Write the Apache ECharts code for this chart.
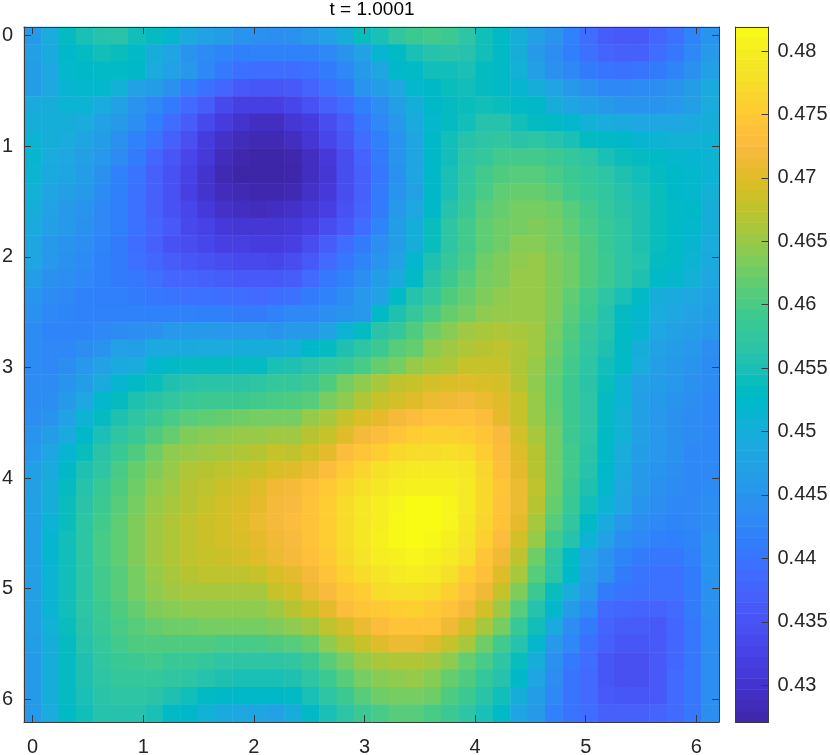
<!DOCTYPE html>
<html>
<head>
<meta charset="utf-8">
<style>html,body{margin:0;padding:0;background:#fff}#c{width:830px;height:755px}</style>
<script src="https://cdn.jsdelivr.net/npm/echarts@6/dist/echarts.min.js"></script>
</head>
<body>
<div id="c"></div>
<script>
// Field values, in thousandths above 0.4
const row00=[46,49.5,53.5,55,56,56.5,54.5,53.5,52,49,47.5,46.5,45,44.5,44,44.5,46,47.5,50,54,55,57.5,59,59.5,59,57,54.5,53,50,47,45,42,39,36.5,36,36,38,39.5,42.5,45];
const row01=[47,49,52.5,53.5,54.5,54,53,50,48,45,43.5,42.5,41.5,42,42,42,42,43,45,47.5,51.5,53,55,56,56.5,56,54.5,53,50,46,44,41.5,39.5,37.5,37,37,39,40.5,43,46];
const row02=[46.5,48.5,52,52.5,53,53,52.5,49.5,47.5,46,43,41,39.5,39,39,39,39.5,41,43,46,48,52.5,53,54.5,54.5,55,53.5,53,50.5,47,44.5,43,41,40,39.5,40,41,42.5,44.5,47];
const row03=[46.5,48.5,51.5,52,52,50.5,47.5,46.5,44.5,41.5,39.5,38,36,35.5,35.5,36,37.5,39.5,41,45,46.5,48.5,52,52.5,54,54.5,53.5,53,51.5,50,48,46,44.5,43,43,43.5,44,45,46.5,49];
const row04=[49,50,51,51,49.5,47.5,45,43,41,38.5,36.5,33.5,32,32,32,33,35,37,39,41.5,44,47,50,52.5,53.5,54,54.5,54,53,52.5,50,48,47,46,45,45,45,45.5,47,49.5];
const row05=[50,50,50,49.5,47.5,46,44,41.5,39,36.5,33.5,31.5,30,29,29,30.5,31.5,34,36.5,40,43,45.5,49,52,53.5,54.5,56,56,54.5,53.5,53,52,50.5,49.5,49,48.5,48.5,48.5,49,50];
const row06=[51,50,49.5,48,46.5,44.5,42,40,37,34.5,31.5,29.5,28.5,28,28,29,30.5,33,35.5,39,41.5,45,48,52.5,54.5,56,57,57.5,56.5,57,56,55,53.5,53,52.5,51.5,51,50.5,50.5,51];
const row07=[51.5,49.5,48.5,47,45.5,43.5,41,38,35.5,33,31,28.5,27.5,27,27,27.5,29,31,34,37.5,41,45,48,52.5,54.5,57,58,59.5,59.5,59.5,59,58,57,55,54,53.5,53,52,51.5,51];
const row08=[51,49,48,46.5,44.5,42,40,37,35,32.5,30,28,27.2,27.1,27.1,27.3,29,30.5,34,37,40.5,44.5,48,52.5,55,57.5,59.5,60.5,61,61,60,59,58,57,55.5,54.5,53.5,52.5,52,51];
const row09=[50.5,48,47,46,43.5,41.5,39.5,37,35,32,30,28.5,28,27.5,27.5,28,29.5,31,34,37,41,45,47.5,52.5,55,58,60,61.5,62,62,61,59.5,58.5,57.5,56,55,54,52.5,52,50.5];
const row10=[50,47.5,46,45,43,41.5,39.5,37,35,33,31,29.5,29,28.5,29,29.5,30.5,32,35,37.5,41,46,48.5,52.5,56,58.5,61,62,63,63,62.5,61,59.5,58,56.5,55.5,54,53,52.5,50];
const row11=[49,47,46,44.5,43,41.5,39.5,37.5,36,33.5,32.5,31,30.5,30.5,30.5,31,32,34,36,39,42.5,46.5,50,54,57,59.5,61.5,62.5,63,63.5,63,61.5,60,58.5,57,55.5,54,53,52,50];
const row12=[48,46,45,44,42.5,41,39,37,35,34,33,32,32,31.5,31.5,32,34,36.5,39,41,44,46.5,50,54,57,59.5,61.5,62.5,64,64,63,62,60.5,58.5,57,55.5,54,53,51.5,49.5];
const row13=[48,45.5,44.5,43.5,42,41,39.5,38,36.5,35.5,35,34,33.5,33.5,33,34,36,38.5,40.5,42.5,45,47.5,52,55.5,58,60,62.5,63.5,64.5,65,63.5,62.5,60.5,59,57,56,53.5,53,51,49];
const row14=[46.5,44.5,44,43,42,41,40.5,39.5,38,37.5,37,36.5,36,36,36,36.5,38.5,40.5,42,44,46.5,49,53,56.5,59,61,63,63.5,65,65,63.5,62.5,60.5,59,57,55.5,53,52,50.5,48.5];
const row15=[45,43.5,43,42,41.5,41.5,41,40.5,40,39.5,39.5,39,39,38.5,39,39.5,41,42,43.5,45.5,47.5,53,56,58,60.5,62,63.5,64.5,65,65,63.5,61.5,59.5,57,55,53,50,49,48.5,47.5];
const row16=[44.5,43,42.5,42,42,42,42,42,42,42,41.5,41.5,41,41,42,43,43,44,45,45.5,53,55.5,58,60,62,63,64.5,65,65,65,63.5,61,59,56,53.5,52,49.5,48.5,47.5,46.5];
const row17=[43.5,42.5,42.5,42.5,43,43.5,44,44.5,45.5,46,46,45.5,45.5,45.5,45,46,46,47.5,51,53.5,56.5,58,60.5,62.5,64,65.5,66,66.5,66,65.5,63,60.5,58,56,53,51.5,48.5,47.5,46.5,45.5];
const row18=[43.5,43,43,44,45,47.5,47,49,49,49,49.5,49.5,50,50,50,50.5,52.5,53.5,55.5,57,59,61,62,64.5,65.5,66.5,67,67.5,66.5,65.5,62.5,60,57.5,55.5,53,50,47.5,46.5,45.5,44];
const row19=[43.5,43,44,45.5,47.5,49,49.5,52,53,53.5,53.5,53.5,53.5,53.5,55,55.5,56.5,57.5,58.5,60,62,63,65,66,66.5,68,68,68,66.5,65,62,59.5,57,54.5,53,49.5,47,46,45,43.5];
const row20=[43.5,43.5,45,46.5,49,51.5,53,54,55.5,56,56.5,56.5,56.5,57,58,58,59,60.5,63,64.5,66,67.5,68,69,69.5,70,69.5,69,67,64.5,61.5,59,56.5,54,51,47.5,46.5,45.5,44.5,43.5];
const row21=[43.5,44,46,48.5,52,53.5,55.5,56.5,57.5,58.5,59,59,59,59.5,60,60.5,61,63,64.5,66.5,68,69,70,71,71.5,72,71,70,68,65,61.5,59,57,53.5,51,47,46,45,44,43];
const row22=[44,45,47.5,51,53.5,55.5,57,58.5,60,61,61.5,62,62.5,63,63,63,65,66,68,69.5,70.5,72,73,74,74,74,73,70.5,68,65,62,59,57,53.5,50.5,47,45.5,44.5,43.5,43];
const row23=[45,46.5,49,52.5,55,57,58.5,60.5,62,63.5,64,64.5,65,65,65.5,65.5,67,68,70,72,73,74.5,75.5,76,76,75.5,74.5,72.5,69,66,62.5,59,57,53,50.5,47,45.5,44.5,43.5,43];
const row24=[45.5,48,51.5,54,56.5,58.5,60.5,62.5,64.5,65,65.5,66,66.5,67,68,67.5,69,70.5,73,74.5,75.5,77,77.5,77.5,78,77.5,75.5,73,70,67,62.5,59.5,56.5,53,49.5,46.5,45.5,44.5,43,43];
const row25=[47,49,52.5,55.5,57,60,62,63.5,65,66.5,67,67.5,68,68.5,69.5,70,71,73,75,76.5,78,79,79.5,79.5,79.5,79,76.5,73.5,70.5,67,62.5,59.5,56,52.5,49,46,45,44,43,43];
const row26=[47,50,53.5,56,58.5,60.5,62.5,64.5,65.5,67,67.5,68.5,69,70,71.5,72,73.5,75,76.5,78,79,80,80.5,80.5,80.5,79.5,77,74.5,71,67.5,62.5,59,55.5,52,48.5,46,44.5,43.5,43,43.5];
const row27=[47,50,54,56.5,59,61,63,65,66,67,68,69,69.5,70.5,72,72.5,74,75.5,77.5,79,80,81,81.9,81.9,81,79.5,77,74,71,67,62,58.5,54.5,51,48,45,44,43,43,44];
const row28=[47,51,54,57,59.5,61.5,63.5,65.5,66.5,67.5,68.5,69,70,71,72,73,74,75.5,77.5,79,80,81.5,81.9,81.9,81,79,76.5,74,70.5,66,61,57.5,53,49,45.5,44,43,42.5,43,44];
const row29=[47,51.5,54.5,57,60,61.5,63.5,65.5,66.5,67.5,68.5,69,69.5,70.5,71.5,72.5,74,75.5,77.5,79,80.5,81.5,81.9,81.5,80.5,78.5,76,73,69,65,59.5,56,51,47.5,44,43,42,41.5,42.5,45];
const row30=[47,51.5,54.5,57,60,61.5,63.5,65.5,66.5,67.5,68,68.5,69,70,71,72,73.5,75,77,78.5,80,80.5,81,80.5,79.5,78,74.5,71.5,67.5,62.5,57.5,53,48,45,42.5,41,40.5,40.5,42,45];
const row31=[47,51,54.5,57,59.5,61,63,65,66,67,67.5,67.5,67.5,68,69.5,70.5,72,74,76,77.5,78.5,79.5,80,79.5,78,75.5,73.5,70,66,61,57,52.5,47,44.5,41,40,39.5,39.5,41,45];
const row32=[47,51,54.5,57,59.5,61,63,64.5,65.5,66,66,66,66,66,68,69,71,72.5,74.5,75.5,77.5,78,78,77.5,76,74,71.5,68,63.5,59,54,49.5,46,41,40,39.5,39.5,39.5,41,44.5];
const row33=[47,51,54.5,57,59,60.5,62,63.5,64,64.5,64.5,64.5,64.5,64.5,65.5,67,68.5,70.5,73,74.5,75,75.5,76,75,74,72,69,65.5,61,56,52,46.5,43.5,38.5,38,37.5,37.5,38.5,41,44.5];
const row34=[47,50.5,54,56.5,58.5,60,61,62,62.5,62.5,63,63,63,63,63.5,64.5,65.5,67.5,69,71,73,74,74,74,71.5,69,66,63,58.5,54.5,49,44,41,37.5,36.5,36.5,36,38,40.5,44];
const row35=[46.5,50,53.5,56,58,59.5,60.5,60.5,60.5,60.5,60.5,60,60,60,60.5,61,62,64.5,66.5,68,70,71,71,70,68,66,62.5,59.5,56,52,46,43,39.5,37,35.5,35.5,36,38,40.5,44];
const row36=[46,50,53.5,55.5,57.5,58.5,59,59.5,58.5,58.5,58,57,57,57,57,57.5,59,61,63,65,66,66.5,66.5,66,64.5,62,60,57,54,50,44.5,41,39,35.5,34.5,34.5,36,38,40.5,44];
const row37=[46,50,53.5,55.5,57,58,58,58,57.5,57,56,55.5,55,55,55,55.5,57,59,61,63,64,64.5,65,64,62,60.5,58,56,52.5,48,44,40,38.5,35.5,34.5,34.5,36,38.5,40.5,44];
const row38=[46,50,53.5,55,56.5,57,57,56.5,55.5,54.5,53,52.5,52.5,52.5,52.5,53,55,57,59,61,62.5,63,63,62.5,60.5,59,56.5,54.5,50,46.5,43,40,38.5,36,35.5,35.5,36,38.5,40.5,44];
const row39=[46,49.5,53,54.5,56,56,56,55,53,52.5,50.5,49,48.5,48,47.5,50,53,55,57,59,60,61,61,60,59,57,55,53,48,46,42,40,39,37,37,37,37.5,38.5,40.5,44];
const rows=[row00,row01,row02,row03,row04,row05,row06,row07,row08,row09,row10,row11,row12,row13,row14,row15,row16,row17,row18,row19,row20,row21,row22,row23,row24,row25,row26,row27,row28,row29,row30,row31,row32,row33,row34,row35,row36,row37,row38,row39];

const titleText='t = 1.0001';
const xTicks=[0,1,2,3,4,5,6];
const yTicks=[0,1,2,3,4,5,6];
const barTicks=[0.43,0.435,0.44,0.445,0.45,0.455,0.46,0.465,0.47,0.475,0.48];
const valueMin=0.4271, valueMax=0.4819;
const cellStep=0.15708;
const axisMin=-0.0785, axisMax=6.2047;

const parulaRGB=[[.2422,.1504,.6603],[.2504,.165,.7076],[.2578,.1818,.7511],[.2647,.1978,.7952],[.2706,.2147,.8364],[.2751,.2342,.871],[.2783,.2559,.8991],[.2803,.2782,.9221],[.2813,.3006,.9414],[.281,.3228,.9579],[.2795,.3447,.9717],[.276,.3667,.9829],[.2699,.3892,.9906],[.2602,.4123,.9952],[.244,.4358,.9988],[.2206,.4603,.9973],[.1963,.4847,.9892],[.1834,.5074,.9798],[.1786,.5289,.9682],[.1764,.5499,.952],[.1687,.5703,.9359],[.154,.5902,.9218],[.146,.6091,.9079],[.138,.6276,.8973],[.1248,.6459,.8883],[.1113,.6635,.8763],[.0952,.6798,.8598],[.0689,.6948,.8394],[.0297,.7082,.8163],[.0036,.7203,.7917],[.0067,.7312,.766],[.0433,.7411,.7394],[.0964,.75,.712],[.1408,.7584,.6842],[.1717,.767,.6554],[.1938,.7758,.6251],[.2161,.7843,.5923],[.247,.7918,.5567],[.2906,.7973,.5188],[.3406,.8008,.4789],[.3909,.8029,.4354],[.4456,.8024,.3909],[.5044,.7993,.348],[.5616,.7942,.3045],[.6174,.7876,.2612],[.672,.7793,.2227],[.7242,.7698,.191],[.7738,.7598,.1646],[.8203,.7498,.1535],[.8634,.7406,.1596],[.9035,.733,.1774],[.9393,.7288,.21],[.9728,.7298,.2394],[.9956,.7434,.2371],[.997,.7659,.2199],[.9952,.7893,.2028],[.9892,.8136,.1885],[.9786,.8386,.1766],[.9676,.8639,.1643],[.961,.889,.1537],[.9597,.9135,.1423],[.9628,.9373,.1265],[.9691,.9606,.1064],[.9769,.9839,.0805]];
const parula=parulaRGB.map(c=>'rgb('+c.map(v=>Math.round(v*255)).join(',')+')');

const cells=[];
rows.forEach((r,i)=>r.forEach((v,j)=>cells.push([j,i,+(0.4+v/1000).toFixed(5)])));
const xCats=rows[0].map((_,j)=>(j*cellStep).toFixed(3));
const yCats=rows.map((_,i)=>(i*cellStep).toFixed(3));

const barLevels=parula.map((_,k)=>valueMin+(k+0.5)*(valueMax-valueMin)/parula.length);
const barCats=barLevels.map(v=>v.toFixed(5));
const barCells=barLevels.map((v,k)=>[0,k,v]);

const FONT='"Liberation Sans", Arial, sans-serif';
const INK='#262626', LINE='#3a3a3a';
const lineStyle={lineStyle:{color:LINE,width:1}};
function edge(base,ticks,showTick,showLabel,labelOpt){
  return Object.assign({
    type:'value',z:10,splitLine:{show:false},
    axisLine:Object.assign({show:true,onZero:false},lineStyle),
    axisTick:Object.assign({show:showTick,inside:true,length:7,customValues:ticks},lineStyle),
    axisLabel:Object.assign({show:showLabel,customValues:ticks,color:INK,fontFamily:FONT,fontSize:20},labelOpt||{})
  },base);
}
const G0={gridIndex:0,min:axisMin,max:axisMax};
const G1={gridIndex:1,min:0,max:1};
const option={
  animation:false,
  backgroundColor:'#fff',
  title:{text:titleText,left:367,top:-5,textAlign:'center',
    textStyle:{fontFamily:FONT,fontSize:19,fontWeight:'normal',color:'#000'}},
  grid:[{left:24,top:27,width:695,height:695,outerBoundsMode:'none'},{left:735.5,top:27,width:33,height:695,outerBoundsMode:'none'}],
  visualMap:{show:false,type:'continuous',min:valueMin,max:valueMax,dimension:2,seriesIndex:[0,1],inRange:{color:parula}},
  xAxis:[
    {type:'category',gridIndex:0,data:xCats,show:false},
    edge(Object.assign({position:'bottom'},G0),xTicks,true,true,{margin:15}),
    edge(Object.assign({position:'top'},G0),xTicks,true,false),
    {type:'category',gridIndex:1,data:['bar'],show:false},
    edge(Object.assign({position:'top'},G1),[],false,false),
    edge(Object.assign({position:'bottom'},G1),[],false,false)
  ],
  yAxis:[
    {type:'category',gridIndex:0,data:yCats,inverse:true,show:false},
    edge(Object.assign({position:'left',inverse:true},G0),yTicks,true,true,{margin:11}),
    edge(Object.assign({position:'right',inverse:true},G0),yTicks,true,false),
    {type:'category',gridIndex:1,data:barCats,show:false},
    edge({gridIndex:1,min:valueMin,max:valueMax,position:'right'},barTicks,true,true,
      {margin:9,formatter:v=>String(+(+v).toFixed(3))}),
    edge({gridIndex:1,min:valueMin,max:valueMax,position:'left'},[],false,false)
  ],
  series:[
    {type:'heatmap',xAxisIndex:0,yAxisIndex:0,data:cells,progressive:0,itemStyle:{borderWidth:0}},
    {type:'heatmap',xAxisIndex:3,yAxisIndex:3,data:barCells,progressive:0,itemStyle:{borderWidth:0}}
  ]
};
echarts.init(document.getElementById('c'),null,{renderer:'canvas'}).setOption(option);
</script>
</body>
</html>
